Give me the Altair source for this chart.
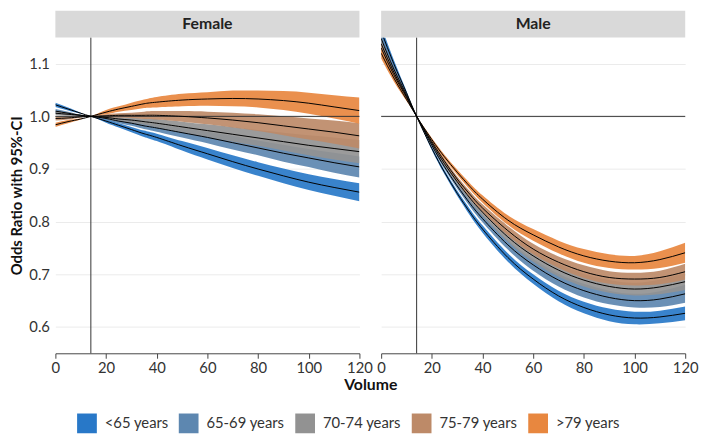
import altair as alt
import pandas as pd

# ---------------- data ----------------
X = [0, 5, 10, 14, 20, 25, 30, 35, 40, 50, 60, 70, 80, 90, 100, 110, 120]
GROUPS = ['<65 years', '65-69 years', '70-74 years', '75-79 years', '>79 years']
COLORS = ['#2878C8', '#5D87B0', '#929292', '#BD8A68', '#E8873F']

female_center = {
    '<65 years':   [1.022, 1.014, 1.006, 1.000, 0.991, 0.983, 0.975, 0.967, 0.960, 0.944, 0.929, 0.914, 0.900, 0.887, 0.875, 0.865, 0.856],
    '65-69 years': [1.010, 1.006, 1.002, 1.000, 0.996, 0.991, 0.987, 0.982, 0.978, 0.969, 0.960, 0.950, 0.940, 0.930, 0.921, 0.912, 0.904],
    '70-74 years': [1.006, 1.004, 1.002, 1.000, 0.998, 0.995, 0.993, 0.990, 0.987, 0.980, 0.973, 0.966, 0.959, 0.952, 0.945, 0.939, 0.933],
    '75-79 years': [0.996, 0.997, 0.999, 1.000, 1.001, 1.002, 1.002, 1.002, 1.002, 1.000, 0.997, 0.993, 0.988, 0.982, 0.976, 0.970, 0.963],
    '>79 years':   [0.984, 0.990, 0.995, 1.000, 1.008, 1.014, 1.019, 1.024, 1.027, 1.031, 1.033, 1.034, 1.033, 1.030, 1.025, 1.018, 1.011],
}
female_halfwidth = {
    '<65 years':   [0.004, 0.003, 0.001, 0.0, 0.003, 0.004, 0.005, 0.006, 0.007, 0.009, 0.011, 0.012, 0.013, 0.014, 0.015, 0.016, 0.017],
    '65-69 years': [0.004, 0.003, 0.001, 0.0, 0.003, 0.004, 0.005, 0.006, 0.007, 0.009, 0.011, 0.013, 0.014, 0.016, 0.017, 0.019, 0.020],
    '70-74 years': [0.004, 0.003, 0.001, 0.0, 0.003, 0.004, 0.005, 0.006, 0.008, 0.010, 0.012, 0.014, 0.015, 0.017, 0.019, 0.021, 0.022],
    '75-79 years': [0.004, 0.003, 0.001, 0.0, 0.003, 0.004, 0.005, 0.007, 0.008, 0.010, 0.012, 0.014, 0.016, 0.018, 0.020, 0.022, 0.024],
    '>79 years':   [0.004, 0.003, 0.001, 0.0, 0.004, 0.005, 0.007, 0.008, 0.010, 0.012, 0.013, 0.015, 0.016, 0.018, 0.020, 0.022, 0.025],
}
male_center = {
    '<65 years':   [1.162, 1.100, 1.045, 1.000, 0.939, 0.894, 0.854, 0.818, 0.786, 0.732, 0.691, 0.659, 0.637, 0.623, 0.617, 0.619, 0.626],
    '65-69 years': [1.148, 1.090, 1.041, 1.000, 0.945, 0.904, 0.868, 0.835, 0.806, 0.756, 0.718, 0.689, 0.669, 0.656, 0.650, 0.653, 0.663],
    '70-74 years': [1.138, 1.084, 1.038, 1.000, 0.949, 0.910, 0.876, 0.845, 0.818, 0.771, 0.735, 0.708, 0.689, 0.677, 0.672, 0.676, 0.686],
    '75-79 years': [1.130, 1.079, 1.036, 1.000, 0.952, 0.915, 0.881, 0.852, 0.826, 0.783, 0.748, 0.723, 0.705, 0.694, 0.691, 0.694, 0.705],
    '>79 years':   [1.120, 1.073, 1.032, 1.000, 0.956, 0.923, 0.894, 0.867, 0.843, 0.803, 0.775, 0.752, 0.735, 0.725, 0.722, 0.728, 0.741],
}
male_halfwidth = {
    '<65 years':   [0.010, 0.007, 0.003, 0.0, 0.003, 0.004, 0.005, 0.006, 0.007, 0.008, 0.009, 0.010, 0.011, 0.012, 0.012, 0.012, 0.013],
    '65-69 years': [0.010, 0.007, 0.003, 0.0, 0.003, 0.004, 0.005, 0.006, 0.007, 0.009, 0.011, 0.012, 0.013, 0.013, 0.013, 0.015, 0.017],
    '70-74 years': [0.010, 0.007, 0.003, 0.0, 0.003, 0.004, 0.005, 0.006, 0.007, 0.009, 0.011, 0.012, 0.012, 0.012, 0.012, 0.014, 0.016],
    '75-79 years': [0.010, 0.007, 0.003, 0.0, 0.003, 0.004, 0.005, 0.006, 0.007, 0.009, 0.010, 0.011, 0.012, 0.012, 0.012, 0.013, 0.015],
    '>79 years':   [0.010, 0.007, 0.003, 0.0, 0.003, 0.004, 0.005, 0.006, 0.007, 0.009, 0.011, 0.012, 0.013, 0.013, 0.013, 0.016, 0.019],
}
PANELS = ['Female', 'Male']
X_TICKS = [0, 20, 40, 60, 80, 100, 120]
Y_TICKS = [0.6, 0.7, 0.8, 0.9, 1.0, 1.1]
REF_X = 14
REF_Y = 1.0

# ---------------- table ----------------
rows = []
for sex, cen, hw in [('Female', female_center, female_halfwidth), ('Male', male_center, male_halfwidth)]:
    for gi, g in enumerate(GROUPS):
        for i, xv in enumerate(X):
            c = cen[g][i]
            h = hw[g][i]
            rows.append({'sex': sex, 'group': g, 'gi': gi, 'x': xv, 'c': c, 'lo': c - h, 'hi': c + h})
df = pd.DataFrame(rows)

W, H = 308, 320
SPACING = 22
STRIP = 27
TXT = '#333333'
INTERP = 'natural'

xscale = alt.Scale(domain=[0, 120], nice=False, zero=False)
yscale = alt.Scale(domain=[0.55, 1.15], nice=False, zero=False)
cscale = alt.Scale(domain=GROUPS, range=COLORS)


def make_panel(sex, first):
    d = df[df.sex == sex]
    xkw = dict(values=X_TICKS, labelFlush=False, grid=False, domainColor='#444444',
               tickColor='#444444', tickSize=5, labelFontSize=15, labelColor=TXT,
               labelPadding=2)
    if first:
        xkw.update(title='Volume', titleX=(2 * W + SPACING) / 2, titleY=24,
                   titleAlign='center', titleBaseline='top', titleFontSize=16,
                   titleFontWeight='bold', titleColor='#111111', titleAnchor='middle')
    else:
        xkw.update(title=None)
    xax = alt.Axis(**xkw)
    if first:
        yax = alt.Axis(values=Y_TICKS, format='.1f', domain=False, ticks=False, grid=True,
                       gridColor='#EBEBEB', labelFontSize=15, labelColor=TXT, labelPadding=6,
                       title='Odds Ratio with 95%-CI', titleFontSize=15, titleFontWeight='bold',
                       titleColor='#111111', titlePadding=4)
    else:
        yax = alt.Axis(values=Y_TICKS, labels=False, domain=False, ticks=False, grid=True,
                       gridColor='#EBEBEB', title=None)

    layers = []
    for g in GROUPS:
        layers.append(
            alt.Chart(d[d.group == g]).mark_area(interpolate=INTERP, opacity=0.92, clip=True).encode(
                x=alt.X('x:Q', scale=xscale, axis=xax),
                y=alt.Y('lo:Q', scale=yscale, axis=yax),
                y2='hi:Q',
                color=alt.Color('group:N', scale=cscale, sort=GROUPS, legend=alt.Legend(
                    orient='none', legendX=22, legendY=381, direction='horizontal',
                    title=None, symbolType='square', symbolSize=400, symbolStrokeWidth=0,
                    symbolOpacity=1, labelFontSize=15, labelColor=TXT, labelOffset=8,
                    columnPadding=10, padding=0)),
            )
        )
    hline = alt.Chart(pd.DataFrame({'v': [REF_Y]})).mark_rule(color='#333333', strokeWidth=1).encode(
        y=alt.Y('v:Q', scale=yscale, axis=yax))
    vline = alt.Chart(pd.DataFrame({'v': [REF_X]})).mark_rule(color='#333333', strokeWidth=1).encode(
        x=alt.X('v:Q', scale=xscale, axis=xax))
    lines = alt.Chart(d).mark_line(color='black', strokeWidth=1, interpolate=INTERP, clip=True).encode(
        x=alt.X('x:Q', scale=xscale, axis=xax),
        y=alt.Y('c:Q', scale=yscale, axis=yax),
        detail='group:N')
    strip = alt.Chart(pd.DataFrame({'t': [sex]})).mark_rect(color='#D9D9D9').encode(
        x=alt.value(0), x2=alt.value(W), y=alt.value(-STRIP), y2=alt.value(0))
    strip_txt = alt.Chart(pd.DataFrame({'t': [sex]})).mark_text(
        fontSize=16, fontWeight='bold', color='#222222', baseline='middle', align='center').encode(
        x=alt.value(W / 2), y=alt.value(-STRIP / 2), text='t:N')
    return alt.layer(*layers, hline, vline, lines, strip, strip_txt).properties(width=W, height=H)


chart = alt.hconcat(make_panel('Female', True), make_panel('Male', False),
                    spacing=SPACING, bounds='flush').resolve_scale(color='shared').properties(
    padding={'left': 2, 'top': 0, 'right': 2, 'bottom': 0}
).configure(font='Lato').configure_view(stroke=None)

chart.save("out.html", embed_options={"renderer": "svg", "actions": False})
